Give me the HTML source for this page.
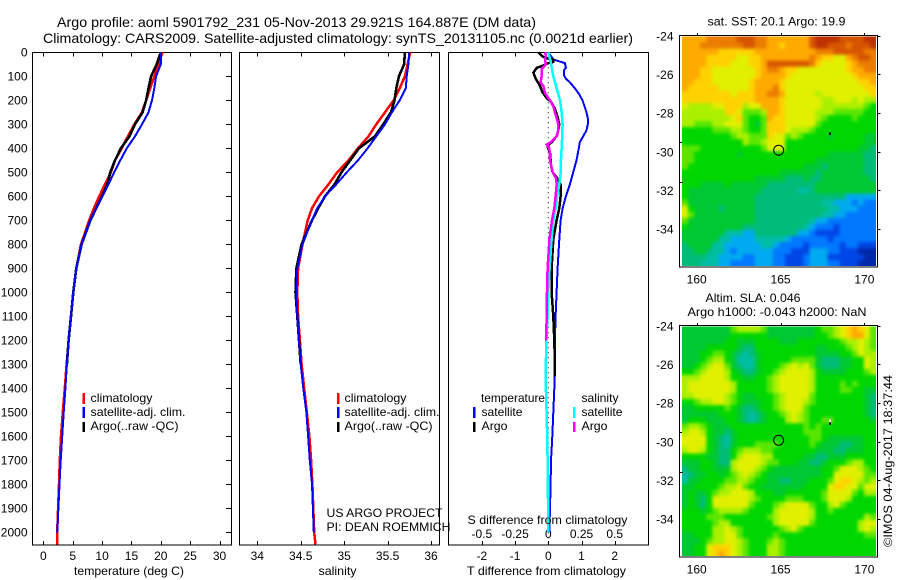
<!DOCTYPE html>
<html>
<head>
<meta charset="utf-8">
<title>Argo profile</title>
<style>
html,body{margin:0;padding:0;background:#fff;width:900px;height:580px;overflow:hidden}
svg{display:block}
text{font-family:"Liberation Sans",sans-serif;font-size:12px;fill:#000}
.t{font-size:14px}
</style>
</head>
<body>
<svg id="chart" xmlns="http://www.w3.org/2000/svg" width="900" height="580" viewBox="0 0 900 580">
<defs>
<filter id="map-smooth" color-interpolation-filters="sRGB" x="-5%" y="-5%" width="110%" height="110%">
<feGaussianBlur stdDeviation="1.6"/>
<feComponentTransfer><feFuncA type="linear" slope="30"/></feComponentTransfer>
</filter>
<clipPath id="clip-sst"><rect x="682" y="36.5" width="194" height="229.5"/></clipPath>
<clipPath id="clip-sla"><rect x="682" y="326.5" width="194" height="229.5"/></clipPath>
</defs>
<rect width="900" height="580" fill="#fff"/>
<text class="t" x="57" y="27" textLength="479" lengthAdjust="spacingAndGlyphs">Argo profile: aoml 5901792_231 05-Nov-2013 29.921S 164.887E (DM data)</text>
<text class="t" x="43" y="43" textLength="590" lengthAdjust="spacingAndGlyphs">Climatology: CARS2009. Satellite-adjusted climatology: synTS_20131105.nc (0.0021d earlier)</text>

<rect x="32.5" y="52.5" width="199" height="492.5" fill="none" stroke="#000"/>
<rect x="239.5" y="52.5" width="200" height="492.5" fill="none" stroke="#000"/>
<rect x="448.5" y="52.5" width="200" height="492.5" fill="none" stroke="#000"/>

<g id="layer-heat"></g>
<g id="layer-axes"></g>
<g id="layer-lines"></g>

<text x="74" y="575" textLength="110" lengthAdjust="spacingAndGlyphs">temperature (deg C)</text>
<text x="318.5" y="575" textLength="38" lengthAdjust="spacingAndGlyphs">salinity</text>
<text x="467" y="575" textLength="159" lengthAdjust="spacingAndGlyphs">T difference from climatology</text>
<text x="467.5" y="524" textLength="160" lengthAdjust="spacingAndGlyphs">S difference from climatology</text>

<g>
<rect x="82.5" y="393" width="2.5" height="11" fill="#f00"/>
<rect x="82.5" y="407" width="2.5" height="11" fill="#00f"/>
<rect x="82.5" y="422" width="2.5" height="10" fill="#000"/>
<text x="90.5" y="402" textLength="62" lengthAdjust="spacingAndGlyphs">climatology</text>
<text x="90.5" y="416" textLength="95" lengthAdjust="spacingAndGlyphs">satellite-adj. clim.</text>
<text x="90.5" y="430" textLength="88" lengthAdjust="spacingAndGlyphs">Argo(..raw -QC)</text>
</g>
<g>
<rect x="337" y="393" width="2.5" height="11" fill="#f00"/>
<rect x="337" y="407" width="2.5" height="11" fill="#00f"/>
<rect x="337" y="422" width="2.5" height="10" fill="#000"/>
<text x="344.5" y="402" textLength="62" lengthAdjust="spacingAndGlyphs">climatology</text>
<text x="344.5" y="416" textLength="95" lengthAdjust="spacingAndGlyphs">satellite-adj. clim.</text>
<text x="344.5" y="430" textLength="88" lengthAdjust="spacingAndGlyphs">Argo(..raw -QC)</text>
</g>
<g>
<text x="481" y="402" textLength="64" lengthAdjust="spacingAndGlyphs">temperature</text>
<rect x="473" y="407" width="2.5" height="11" fill="#00f"/>
<rect x="473" y="422" width="2.5" height="10" fill="#000"/>
<text x="481.5" y="416" textLength="41" lengthAdjust="spacingAndGlyphs">satellite</text>
<text x="481.5" y="430" textLength="26" lengthAdjust="spacingAndGlyphs">Argo</text>
<text x="581.5" y="402" textLength="37" lengthAdjust="spacingAndGlyphs">salinity</text>
<rect x="573" y="407" width="2.5" height="11" fill="#0ff"/>
<rect x="573" y="422" width="2.5" height="10" fill="#f0f"/>
<text x="581.5" y="416" textLength="41" lengthAdjust="spacingAndGlyphs">satellite</text>
<text x="581.5" y="430" textLength="26" lengthAdjust="spacingAndGlyphs">Argo</text>
</g>
<text x="326.5" y="517" textLength="116" lengthAdjust="spacingAndGlyphs">US ARGO PROJECT</text>
<text x="326.5" y="531" textLength="124" lengthAdjust="spacingAndGlyphs">PI: DEAN ROEMMICH</text>

<text x="707.5" y="25.5" textLength="138" lengthAdjust="spacingAndGlyphs">sat. SST: 20.1  Argo: 19.9</text>
<text x="705.5" y="302" textLength="95" lengthAdjust="spacingAndGlyphs">Altim. SLA: 0.046</text>
<text x="687.5" y="316" textLength="179" lengthAdjust="spacingAndGlyphs">Argo h1000: -0.043 h2000: NaN</text>
<text transform="translate(892,547) rotate(-90)" x="0" y="0" textLength="172" lengthAdjust="spacingAndGlyphs">©IMOS 04-Aug-2017 18:37:44</text>
</svg>

<script>
// ---- profile data ----
const depthLevels = [0,50,100,150,200,250,300,350,400,450,500,550,600,650,700,800,900,1000,1100,1200,1300,1400,1500,1600,1700,1800,1900,2000,2050];
const tempClimatology = [20.3,19.6,18.9,18.2,17.5,16.8,15.5,14.4,13.35,12.2,11.5,10.5,9.5,8.6,7.8,6.4,5.6,5.1,4.7,4.3,3.95,3.65,3.3,3.0,2.8,2.65,2.5,2.35,2.35];
const tempSatellite = [20.05,20.0,19.2,18.9,18.5,17.9,16.8,15.6,14.2,13.1,12.05,11.1,10.05,9.0,8.0,6.5,5.6,5.1,4.7,4.3,4.0,3.75,3.45,3.2,2.95,2.75,2.55,2.35];
const tempArgo = [20.0,19.3,18.35,17.9,17.5,16.9,15.6,14.65,13.2,12.2,11.4,10.9,10.0,9.0,8.0,6.5,5.6,5.1,4.7,4.3,4.0];
const salClimatology = [35.76,35.73,35.70,35.64,35.57,35.47,35.37,35.28,35.16,35.05,34.92,34.82,34.71,34.63,34.58,34.52,34.47,34.46,34.47,34.49,34.51,34.54,34.57,34.60,34.62,34.635,34.645,34.655,34.67];
const salSatellite = [35.75,35.74,35.72,35.71,35.64,35.55,35.47,35.37,35.27,35.16,35.03,34.91,34.78,34.69,34.63,34.52,34.46,34.45,34.46,34.48,34.50,34.53,34.565,34.585,34.605,34.63,34.64,34.65];
const salArgo = [35.70,35.69,35.63,35.60,35.58,35.54,35.45,35.355,35.17,35.07,34.97,34.89,34.78,34.70,34.63,34.51,34.45,34.44,34.46,34.48,34.50];

const tDiffSatDepths = [0,30,45,65,75,95,110,125,150,175,200,225,250,275,300,325,350,375,400,450,500,550,600,650,700,780,900,1000,1100,1200,1300,1400,1500,1600,1700,1800,1900,2000];
const tDiffSatValues = [0,0.15,0.5,0.53,0.47,0.47,0.53,0.65,0.8,0.93,1.03,1.09,1.15,1.19,1.19,1.15,1.05,0.95,0.92,0.85,0.75,0.65,0.53,0.43,0.37,0.33,0.28,0.25,0.22,0.2,0.19,0.18,0.15,0.12,0.08,0.07,0.05,0.03];
const tDiffArgoDepths = [0,15,25,30,40,45,55,65,85,110,140,165,190,210,235,265,300,325,350,375,390,420,470,500,525,550,600,650,700,780,900,1000,1100,1200,1300,1350];
const tDiffArgoValues = [-0.3,-0.2,-0.05,0.15,0.15,0,-0.15,-0.35,-0.45,-0.38,-0.25,-0.18,-0.05,0.1,0.2,0.27,0.33,0.3,0.25,0.1,-0.03,0.05,0.08,0.13,0.27,0.37,0.37,0.33,0.25,0.15,0.1,0.1,0.15,0.18,0.2,0.2];
const sDiffSatDepths = [0,40,100,150,200,250,300,350,400,450,500,550,600,650,700,780,900,1000,1100,1200,1300,1400,1500,1600,1700,1800,1900,2000];
const sDiffSatValues = [0,0.018,0.038,0.063,0.088,0.1,0.108,0.105,0.1,0.095,0.093,0.083,0.068,0.055,0.038,0.025,0.01,0,-0.005,-0.015,-0.018,-0.018,-0.013,-0.008,-0.005,-0.005,0,0];
const sDiffArgoDepths = [0,15,30,50,70,100,125,140,170,200,225,250,275,300,325,350,375,385,400,450,500,525,550,600,650,700,780,900,1000,1100,1200];
const sDiffArgoValues = [-0.025,-0.018,-0.025,-0.018,-0.05,-0.05,-0.058,-0.038,-0.025,0.013,0.038,0.05,0.063,0.075,0.075,0.063,0.018,-0.013,0.008,0.013,0.033,0.058,0.063,0.055,0.045,0.028,0.008,-0.005,-0.01,-0.013,-0.015];

// ---- tick labels ----
const depthTicks = [0,100,200,300,400,500,600,700,800,900,1000,1100,1200,1300,1400,1500,1600,1700,1800,1900,2000];
const tempTicks = [0,5,10,15,20,25,30];
const salTicks = [34,34.5,35,35.5,36];
const tDiffTicks = [-2,-1,0,1,2];
const sDiffTicks = ['-0.5','-0.25','0','0.25','0.5'];
const lonTicks = [160,165,170];
const latTicks = [-24,-26,-28,-30,-32,-34];

// ---- map data (hex-coded colour levels, one string per row) ----
const sstGrid = [
"ccccdddddeeedd"+"ccccccc"+"effffeeeeff",
"cccdddddddeedd"+"ccbcccc"+"effeeedeeef",
"ccccccbbbbbbcc"+"ccccccc"+"cdddeeeeedd",
"ccccbbbbbaabbc"+"ccccccc"+"dcbbaacdeed",
"ccccbbbbaaabbc"+"eeeeeee"+"dbaaaabcddd",
"cccbbaaaaaaabc"+"ddcbbaa"+"aaaaaabccdd",
"cccbbaaaaaaabc"+"cccbaaa"+"aaaaaaabccc",
"ccbbbaaaaaabcc"+"ccbaaaa"+"aaaaaaaabbc",
"cbbbbbaaaaabcc"+"cdbaaaa"+"aaaaaaaaabb",
"bbbbbbbbabbbcc"+"ddcaaaa"+"a9aaaaaaaab",
"bbbbbbbbbbbbcc"+"ccbaaaa"+"aa99aaa9a99",
"a9999aabbb9aac"+"ccbaaaa"+"aa999999987",
"9999999bba8889"+"ccbaaaa"+"a9998888877",
"99999999ab8778"+"cbbaaaa"+"a9877778777",
"9988899aaa8768"+"bbbaaaa"+"a8777777777",
"77777888998778"+"bbba999"+"87777777777",
"77777777899888"+"baa8987"+"77767777766",
"77777777779889"+"aaa7777"+"77777777766",
"88877777777778"+"aaa7777"+"77777777665",
"88777777767777"+"7777777"+"77766666655",
"88777777777777"+"7777777"+"76666666655",
"87777777777777"+"7777776"+"66566666655",
"77777777777777"+"7766666"+"65666666655",
"77777777777766"+"6665556"+"55666666665",
"77766667666666"+"5555555"+"56666666666",
"76666666666665"+"5555544"+"56666666666",
"76666666666655"+"5555555"+"55555533333",
"86666666666655"+"5555555"+"55443332322",
"a7666656666655"+"5555555"+"55544333222",
"a8666666666655"+"5555555"+"55443322222",
"86666666666655"+"5555555"+"43322222222",
"76666666665555"+"5555554"+"32221222222",
"66666664443355"+"5555533"+"21111222222",
"66666644333344"+"4443222"+"22212222222",
"56666443333334"+"4322221"+"22222122111",
"55665443233333"+"3222111"+"33322111000",
"55554433332233"+"3221112"+"33311111100",
"55544433222233"+"3221112"+"33322111000"
];
const slaGrid = [
"66666666"+"899998"+"66666666"+"7889abcba8",
"66666666"+"777777"+"66666666"+"7789abcca8",
"66666667"+"766677"+"77666777"+"7777899a98",
"66667777"+"765577"+"77777777"+"6677789a98",
"66677887"+"654567"+"77777777"+"6666778a99",
"66678997"+"644467"+"77778888"+"65556677a9",
"66789aa8"+"654467"+"7789a9a8"+"65556677a9",
"7789aaa9"+"765567"+"789aaaa9"+"7666677789",
"999aaaa9"+"776677"+"89aaaaa9"+"7777777777",
"9aaaaaaa"+"977777"+"89aaaaa9"+"7777878777",
"9aaaaaaa"+"977777"+"89aaaaa9"+"7777887766",
"99aaaaa9"+"876677"+"789aaaa8"+"7777777765",
"77899aa9"+"876667"+"789aaa98"+"7777777765",
"66777778"+"765567"+"789aaa87"+"7777777765",
"66666677"+"765456"+"7789a987"+"7777777765",
"67776667"+"765456"+"7779a987"+"7887777776",
"89987666"+"777777"+"77777787"+"8777777777",
"9aa97665"+"677777"+"77777788"+"8777777777",
"aaaa7654"+"677777"+"77777778"+"8766666677",
"aaaa7654"+"677788"+"88777778"+"7666556677",
"9aa97655"+"789998"+"87777777"+"6665566677",
"77776655"+"79aaa9"+"97777766"+"5566677777",
"66677655"+"9aaaa9"+"88777665"+"5677789977",
"56677666"+"9aaa98"+"76666666"+"6778aaa987",
"45667767"+"89a987"+"66666666"+"677aaaaa88",
"46677778"+"899877"+"66556667"+"778abba989",
"66777789"+"9a8776"+"66666677"+"77abbaa8aa",
"67667899"+"aaa977"+"76677777"+"78aaaa8799",
"67657aaa"+"aaa987"+"77788877"+"78aaa97777",
"67657aaa"+"aaa877"+"789aaaa8"+"779a877777",
"77767899"+"998777"+"79aaaaa9"+"7787777777",
"77778887"+"777777"+"89aaaaa9"+"7777777798",
"77777899"+"777777"+"79aaaaa8"+"77777779aa",
"7777799a"+"987777"+"7789a877"+"77777779a9",
"6677799a"+"a87777"+"78777777"+"7777777788",
"6667899a"+"a98777"+"89877777"+"7777777777",
"6677abbb"+"a98777"+"99877777"+"7777777777",
"6677abcb"+"a98777"+"99877777"+"7777777777"
];
const mapPalette = ["#0028aa","#0046e6","#0078ff","#00aaf0","#00bea5","#00bc78","#00c832","#00d700","#5ae600","#aaf000","#e0f000","#ffd200","#ffaa00","#eb7d00","#d75500","#be3200"];
const argoLon = 164.887;
const argoLat = -29.921;

// ---- axis functions ----
const NS = 'http://www.w3.org/2000/svg';
const depthY = d => 52.3 + d * 0.24;
const tempX = t => 43.4 + t * 5.87;
const salX = s => 257.3 + (s - 34) * 86.85;
const tDiffX = v => 548.3 + v * 33.2;
const sDiffX = v => 548.3 + v * 132.8;
const lonX = lon => 696.7 + (lon - 160) * 16.77;
const latYTop = lat => 35.8 + (-24 - lat) * 19.33;
const latYBottom = lat => 325.8 + (-24 - lat) * 19.33;

const heatLayer = document.getElementById('layer-heat');
const axesLayer = document.getElementById('layer-axes');
const lineLayer = document.getElementById('layer-lines');

function tick(x1, y1, x2, y2, name) {
  const el = document.createElementNS(NS, 'line');
  el.setAttribute('x1', x1);
  el.setAttribute('y1', y1);
  el.setAttribute('x2', x2);
  el.setAttribute('y2', y2);
  el.setAttribute('stroke', '#000');
  
  
  axesLayer.appendChild(el);
}
function label(x, y, str, anchor, name) {
  const el = document.createElementNS(NS, 'text');
  el.setAttribute('x', x);
  el.setAttribute('y', y);
  el.setAttribute('text-anchor', anchor);
  el.textContent = str;
  
  
  axesLayer.appendChild(el);
}
function profile(depths, values, xFn, color, width, name) {
  const el = document.createElementNS(NS, 'polyline');
  el.setAttribute('points', values.map((v, i) => xFn(v).toFixed(1) + ',' + depthY(depths[i]).toFixed(1)).join(' '));
  el.setAttribute('fill', 'none');
  el.setAttribute('stroke', color);
  el.setAttribute('stroke-width', width);
  el.setAttribute('shape-rendering', 'crispEdges');
  
  
  lineLayer.appendChild(el);
}
function xTicks(list, labels, xFn, top, bottom, labelY, name) {
  list.forEach((v, i) => {
    const x = Math.round(xFn(v)) + 0.5;
    tick(x, top, x, top + 4, name + '-tick-top');
    tick(x, bottom, x, bottom - 4, name + '-tick-bottom');
    if (labels) label(xFn(v), labelY, labels[i], 'middle', name + '-tick-label');
  });
}

// depth axis: labels on the left, ticks on the right of the first panel
depthTicks.forEach(d => {
  const y = Math.round(depthY(d)) + 0.5;
  tick(226, y, 231.5, y, 'depth-tick');
  label(27.5, y + 4, String(d), 'end', 'depth-tick-label');
});
xTicks(tempTicks, tempTicks, tempX, 52.5, 545, 560, 'temperature');
xTicks(salTicks, salTicks, salX, 52.5, 545, 560, 'salinity');
xTicks(tDiffTicks, tDiffTicks, tDiffX, 52.5, 545, 560, 't-difference');
sDiffTicks.forEach(s => {
  label(sDiffX(Number(s)), 538, s, 'middle', 's-difference-tick-label');
});

// zero line of the difference panel
const zeroLine = document.createElementNS(NS, 'line');
zeroLine.setAttribute('x1', tDiffX(0));
zeroLine.setAttribute('x2', tDiffX(0));
zeroLine.setAttribute('y1', depthY(0));
zeroLine.setAttribute('y2', depthY(2050));
zeroLine.setAttribute('stroke', '#000');
zeroLine.setAttribute('stroke-dasharray', '1 4');


lineLayer.appendChild(zeroLine);

// profiles
profile(depthLevels, tempClimatology, tempX, '#f00', 2.5, 'temperature-climatology-line');
profile(depthLevels.slice(0, tempArgo.length), tempArgo, tempX, '#000', 2.6, 'temperature-argo-line');
profile(depthLevels.slice(0, tempSatellite.length), tempSatellite, tempX, '#00f', 2, 'temperature-satellite-line');
profile(depthLevels, salClimatology, salX, '#f00', 2.5, 'salinity-climatology-line');
profile(depthLevels.slice(0, salArgo.length), salArgo, salX, '#000', 2.6, 'salinity-argo-line');
profile(depthLevels.slice(0, salSatellite.length), salSatellite, salX, '#00f', 2, 'salinity-satellite-line');
profile(tDiffSatDepths, tDiffSatValues, tDiffX, '#00f', 2, 't-difference-satellite-line');
profile(tDiffArgoDepths, tDiffArgoValues, tDiffX, '#000', 2.5, 't-difference-argo-line');
profile(sDiffSatDepths, sDiffSatValues, sDiffX, '#0ff', 2.5, 's-difference-satellite-line');
profile(sDiffArgoDepths, sDiffArgoValues, sDiffX, '#f0f', 2.5, 's-difference-argo-line');

// maps
function drawMap(grid, top, latFn, name, clipId) {
  const left = 682, right = 876, height = 229.7;
  const cols = 32;
  const cw = (right - left) / cols;
  const ch = height / grid.length;
  const frame = document.createElementNS(NS, 'rect');
  frame.setAttribute('x', 679.5);
  frame.setAttribute('y', top - 0.5);
  frame.setAttribute('width', 198);
  frame.setAttribute('height', 231.5);
  frame.setAttribute('fill', '#fff');
  frame.setAttribute('stroke', '#000');
  
  
  heatLayer.appendChild(frame);
  const clipGroup = document.createElementNS(NS, 'g');
  clipGroup.setAttribute('clip-path', 'url(#' + clipId + ')');
  
  
  heatLayer.appendChild(clipGroup);
  const cellGroup = document.createElementNS(NS, 'g');
  cellGroup.setAttribute('filter', 'url(#map-smooth)');
  
  
  clipGroup.appendChild(cellGroup);
  grid.forEach((row, j) => {
    for (let i = 0; i < cols; i++) {
      const code = row[Math.min(i, row.length - 1)];
      const cell = document.createElementNS(NS, 'rect');
      cell.setAttribute('x', (left + i * cw).toFixed(2));
      cell.setAttribute('y', (top + 0.5 + j * ch).toFixed(2));
      cell.setAttribute('width', (cw + 0.4).toFixed(2));
      cell.setAttribute('height', (ch + 0.4).toFixed(2));
      cell.setAttribute('fill', mapPalette[parseInt(code, 16)]);
      
      
      cellGroup.appendChild(cell);
    }
  });
  const bottom = top + 231;
  lonTicks.forEach(lon => {
    const x = Math.round(lonX(lon)) + 0.5;
    tick(x, top - 3, x, top, name + '-lon-tick');
    label(lonX(lon), bottom + 16.5, String(lon), 'middle', name + '-lon-label');
  });
  latTicks.forEach(lat => {
    const y = Math.round(latFn(lat)) + 0.5;
    tick(877.5, y, 880.5, y, name + '-lat-tick');
    label(673.5, latFn(lat) + 4.5, String(lat), 'end', name + '-lat-label');
  });
  const marker = document.createElementNS(NS, 'circle');
  marker.setAttribute('cx', lonX(argoLon));
  marker.setAttribute('cy', latFn(argoLat));
  marker.setAttribute('r', 5);
  marker.setAttribute('fill', 'none');
  marker.setAttribute('stroke', '#000');
  
  
  axesLayer.appendChild(marker);
}
drawMap(sstGrid, 36, latYTop, 'sst-map', 'clip-sst');
drawMap(slaGrid, 326, latYBottom, 'sla-map', 'clip-sla');

// small land specks on the maps
const speckLons = [167.95, 167.95];
const speckLats = [-29.05, -29.05];
const speckColors = ['#000', '#000'];
function drawSpeck(lon, lat, latFn, color, name) {
  const speck = document.createElementNS(NS, 'rect');
  speck.setAttribute('x', lonX(lon) - 1);
  speck.setAttribute('y', latFn(lat) - 1);
  speck.setAttribute('width', 2);
  speck.setAttribute('height', 2.5);
  speck.setAttribute('fill', color);
  
  
  axesLayer.appendChild(speck);
}
drawSpeck(speckLons[0], speckLats[0], latYTop, speckColors[0], 'sst-map-island-speck');
drawSpeck(speckLons[1], speckLats[1] + 0.15, latYBottom, '#fff', 'sla-map-island-speck-white');
drawSpeck(speckLons[1], speckLats[1], latYBottom, speckColors[1], 'sla-map-island-speck');
tick(680, 142.5, 682, 142.5, 'sst-map-edge-speck');
tick(680, 182.5, 683, 182.5, 'sst-map-edge-speck');
tick(680, 432.5, 682, 432.5, 'sla-map-edge-speck');
tick(680, 472.5, 683, 472.5, 'sla-map-edge-speck');
</script>
</body>
</html>
